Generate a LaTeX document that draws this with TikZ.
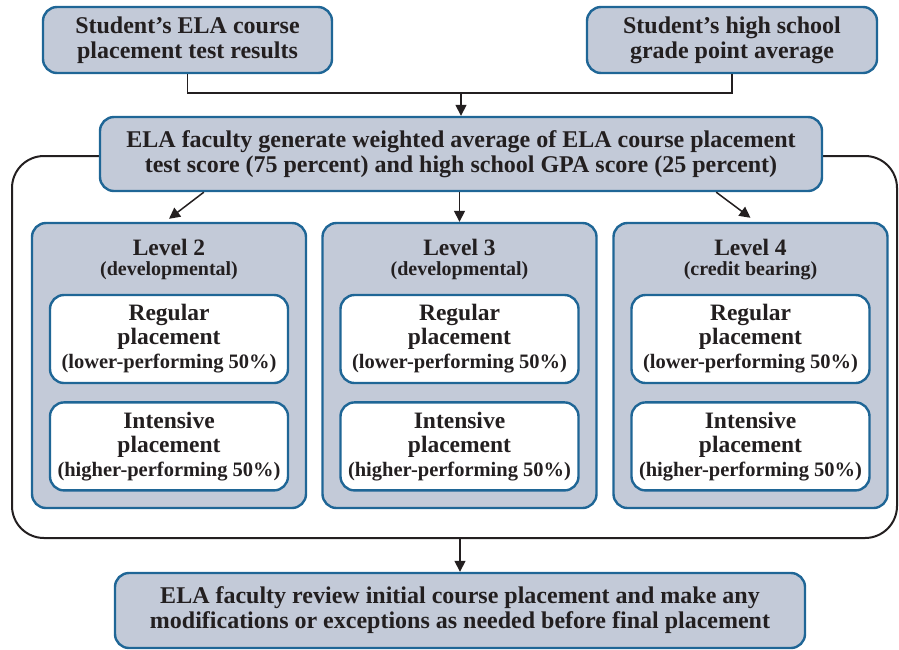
\documentclass[tikz,border=0pt]{standalone}
\usepackage{fontspec}
\setmainfont{Liberation Serif}
\usetikzlibrary{positioning}
\usetikzlibrary{arrows.meta}
\definecolor{boxfill}{HTML}{C3CAD8}
\definecolor{boxline}{HTML}{1F6696}
\definecolor{ink}{HTML}{231F20}

\begin{document}
\begin{tikzpicture}[x=1pt, y=-1pt,
     greybox/.style={rectangle, rounded corners=14pt, draw=boxline, line width=2.4pt, fill=boxfill, text=ink, align=center, inner sep=0pt, font=\fontsize{24}{25}\selectfont\bfseries},
     levelbox/.style={greybox, minimum width=274pt, minimum height=285pt},
     placebox/.style={rectangle, rounded corners=14pt, draw=boxline, line width=2.4pt, fill=white, text=ink, align=center, inner sep=0pt, minimum width=238pt, minimum height=88pt, font=\fontsize{23.5}{24}\selectfont\bfseries},
     leveltitle/.style={text=ink, align=center, inner sep=0pt, font=\fontsize{23.5}{20}\selectfont\bfseries},
     link/.style={draw=ink, line width=1.5pt},
     linkarrow/.style={link, -{Triangle[width=11pt,length=11pt]}}
 ]
 \useasboundingbox (0,0) rectangle (899,649);

 % frame round the three levels
 \node[draw=ink, line width=2pt, rounded corners=32pt, minimum width=885pt, minimum height=382pt] (frame) at (454.5,347) {};

 \node[greybox, minimum width=289pt, minimum height=66pt] (test) at (187.5,40) {Student’s ELA course\\placement test results};
 \node[greybox, minimum width=290pt, minimum height=66pt] (gpa) at (732,40) {Student’s high school\\grade point average};
 \node[greybox, minimum width=722pt, minimum height=74pt] (weight) at (461,154) {ELA faculty generate weighted average of ELA course placement\\test score (75 percent) and high school GPA score (25 percent)};

 \coordinate (join) at (461,93);
 \draw[link] (test.south) |- (join) -| (gpa.south);
 \draw[linkarrow] (join) -- (weight.north);

 \foreach \lvl/\kind/\cx [count=\x] in {2/developmental/169, 3/developmental/459.5, 4/credit bearing/750.5} {
     \node[levelbox] (lev\x) at (\cx,365.5) {};
     \node[leveltitle, below=17pt of lev\x.north] (ttl\x) {Level \lvl\\{\fontsize{20}{20}\selectfont(\kind)}};
     \node[placebox, below=72pt of lev\x.north] (reg\x) {Regular\\placement\\{\fontsize{20.5}{24}\selectfont(lower-performing 50\%)}};
     \node[placebox, below=17pt of reg\x] (int\x) {Intensive\\placement\\{\fontsize{20.5}{24}\selectfont(higher-performing 50\%)}};
 }

 \draw[linkarrow] ([xshift=105pt]weight.south west) -- ([yshift=3pt]lev1.north);
 \draw[linkarrow] (weight.south -| lev2.north) -- (lev2.north);
 \draw[linkarrow] ([xshift=-107pt]weight.south east) -- ([yshift=4pt]lev3.north);

 \node[greybox, minimum width=690pt, minimum height=75pt] (review) at (460,610.5) {ELA faculty review initial course placement and make any\\modifications or exceptions as needed before final placement};
 \draw[linkarrow] (frame.south -| review.north) -- (review.north);
\end{tikzpicture}
\end{document}
